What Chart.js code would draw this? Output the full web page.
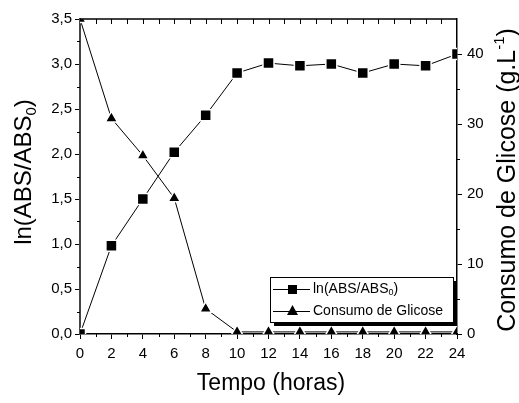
<!DOCTYPE html>
<html>
<head>
<meta charset="utf-8">
<script src="https://cdn.jsdelivr.net/npm/chart.js@4.4.0/dist/chart.umd.min.js"></script>
<style>
  html, body { margin: 0; padding: 0; background: #fff; }
</style>
</head>
<body>
<canvas id="chart" width="519" height="403"></canvas>
<script>
// Data
const hours = [0, 2, 4, 6, 8, 10, 12, 14, 16, 18, 20, 22, 24];
const lnAbs = [0.0, 0.98, 1.50, 2.02, 2.43, 2.90, 3.01, 2.98, 3.00, 2.90, 3.00, 2.98, 3.11];
const glicose = [45, 30.8, 25.5, 19.4, 3.6, 0.3, 0.3, 0.3, 0.3, 0.3, 0.3, 0.3, 0.3];

// Tick labels
const xTicks = [0, 2, 4, 6, 8, 10, 12, 14, 16, 18, 20, 22, 24];
const leftTicks = [0, 0.5, 1.0, 1.5, 2.0, 2.5, 3.0, 3.5];
const rightTicks = [0, 10, 20, 30, 40];

const FONT = '"Liberation Sans", Arial, sans-serif';

// draw a line of text with sub/superscript parts, centred on (cx, cy) baseline
function drawRich(ctx, cx, cy, angle, parts) {
    ctx.save();
    ctx.translate(cx, cy);
    ctx.rotate(angle);
    ctx.fillStyle = '#000';
    ctx.textBaseline = 'alphabetic';
    ctx.textAlign = 'left';
    let total = 0;
    parts.forEach(p => {
        ctx.font = p.size + 'px ' + FONT;
        p.w = ctx.measureText(p.t).width;
        total += p.w;
    });
    let x = -total / 2;
    parts.forEach(p => {
        ctx.font = p.size + 'px ' + FONT;
        ctx.fillText(p.t, x, p.dy || 0);
        x += p.w;
    });
    ctx.restore();
}

function drawRichLeft(ctx, x, y, parts) {
    ctx.fillStyle = '#000';
    ctx.textBaseline = 'middle';
    ctx.textAlign = 'left';
    parts.forEach(p => {
        ctx.font = p.size + 'px ' + FONT;
        ctx.fillText(p.t, x, y + (p.dy || 0));
        x += ctx.measureText(p.t).width;
    });
}

// frame, minor ticks, legend and axis titles
const decorPlugin = {
    id: 'decor',
    afterDraw(chart) {
        const ctx = chart.ctx;
        const area = chart.chartArea;
        const sx = chart.scales.x, sy = chart.scales.y, sy2 = chart.scales.y2;

        ctx.save();
        ctx.strokeStyle = '#000';
        // top border
        ctx.lineWidth = 1.5;
        ctx.beginPath();
        ctx.moveTo(area.left, area.top);
        ctx.lineTo(area.right, area.top);
        ctx.stroke();

        ctx.lineWidth = 1;
        ctx.beginPath();
        for (let h = 1; h < 24; h++) {
            const px = Math.round(sx.getPixelForValue(h)) + 0.5;
            // top ticks pointing in
            ctx.moveTo(px, area.top);
            ctx.lineTo(px, area.top + 5);
            // minor ticks at the bottom
            if (h % 2) {
                ctx.moveTo(px, area.bottom);
                ctx.lineTo(px, area.bottom + 3);
            }
        }
        for (let v = 0.25; v < 3.5; v += 0.5) {
            const py = Math.round(sy.getPixelForValue(v)) + 0.5;
            ctx.moveTo(area.left, py);
            ctx.lineTo(area.left - 3, py);
        }
        for (let v = 5; v < 45; v += 10) {
            const py = Math.round(sy2.getPixelForValue(v)) + 0.5;
            ctx.moveTo(area.right, py);
            ctx.lineTo(area.right + 3, py);
        }
        ctx.stroke();

        // legend box with shadow
        const lx = 270, ly = 277, lw = 183, lh = 45;
        ctx.fillStyle = '#000';
        ctx.fillRect(lx + 4, ly + 4, lw, lh);
        ctx.fillStyle = '#fff';
        ctx.fillRect(lx, ly, lw, lh);
        ctx.lineWidth = 1;
        ctx.strokeRect(lx + 0.5, ly + 0.5, lw, lh);

        const rows = [289, 311];
        ctx.beginPath();
        rows.forEach(ry => {
            ctx.moveTo(273, ry + 0.5);
            ctx.lineTo(310, ry + 0.5);
        });
        ctx.stroke();
        ctx.fillStyle = '#000';
        ctx.fillRect(288, rows[0] - 4, 9, 9);
        ctx.beginPath();
        ctx.moveTo(292.5, rows[1] - 6);
        ctx.lineTo(298, rows[1] + 4);
        ctx.lineTo(287, rows[1] + 4);
        ctx.closePath();
        ctx.fill();

        drawRichLeft(ctx, 313, rows[0], [
            { t: 'ln(ABS/ABS', size: 14 },
            { t: '0', size: 9, dy: 4 },
            { t: ')', size: 14 }
        ]);
        drawRichLeft(ctx, 313, rows[1], [{ t: 'Consumo de Glicose', size: 14 }]);

        // axis titles
        drawRich(ctx, 271, 390, 0, [{ t: 'Tempo (horas)', size: 23 }]);
        drawRich(ctx, 31, 172, -Math.PI / 2, [
            { t: 'ln(ABS/ABS', size: 24 },
            { t: '0', size: 15, dy: 5 },
            { t: ')', size: 24 }
        ]);
        drawRich(ctx, 515, 180, -Math.PI / 2, [
            { t: 'Consumo de Glicose (g.L', size: 25 },
            { t: '-1', size: 15, dy: -11 },
            { t: ')', size: 25 }
        ]);
        ctx.restore();
    }
};

function axisGrid() {
    return { display: true, drawOnChartArea: false, drawTicks: true, tickLength: 5, color: '#000', lineWidth: 1 };
}

const ctx = document.getElementById('chart').getContext('2d');
new Chart(ctx, {
    type: 'line',
    data: {
        datasets: [
            {
                label: 'ln(ABS/ABS0)',
                data: hours.map((h, i) => ({ x: h, y: lnAbs[i] })),
                yAxisID: 'y',
                borderColor: '#000',
                borderWidth: 1,
                tension: 0,
                pointStyle: 'rect',
                pointRadius: 7.8,
                pointBackgroundColor: '#000',
                pointBorderColor: '#fff',
                pointBorderWidth: 1.5,
                clip: 0
            },
            {
                label: 'Consumo de Glicose',
                data: hours.map((h, i) => ({ x: h, y: glicose[i] })),
                yAxisID: 'y2',
                borderColor: '#000',
                borderWidth: 1,
                tension: 0,
                pointStyle: 'triangle',
                pointRadius: 7,
                pointBackgroundColor: '#000',
                pointBorderColor: '#fff',
                pointBorderWidth: 1.5,
                clip: 0
            }
        ]
    },
    options: {
        responsive: false,
        animation: false,
        layout: { padding: { top: 19, left: 0, right: 0, bottom: 0 }, autoPadding: false },
        plugins: { legend: { display: false }, tooltip: { enabled: false } },
        scales: {
            x: {
                type: 'linear',
                position: 'bottom',
                min: 0,
                max: 24,
                afterBuildTicks: s => { s.ticks = xTicks.map(v => ({ value: v })); },
                afterFit: s => { s.height = 69; },
                ticks: { color: '#000', font: { family: FONT, size: 15 }, padding: 6, maxRotation: 0, autoSkip: false },
                grid: axisGrid(),
                border: { display: true, color: '#000', width: 1.5 }
            },
            y: {
                type: 'linear',
                position: 'left',
                min: 0,
                max: 3.5,
                afterBuildTicks: s => { s.ticks = leftTicks.map(v => ({ value: v })); },
                afterFit: s => { s.width = 80; },
                ticks: {
                    color: '#000',
                    font: { family: FONT, size: 15 },
                    padding: 3,
                    callback: v => v.toFixed(1).replace('.', ',')
                },
                grid: axisGrid(),
                border: { display: true, color: '#444', width: 2 }
            },
            y2: {
                type: 'linear',
                position: 'right',
                min: 0,
                max: 45,
                afterBuildTicks: s => { s.ticks = rightTicks.map(v => ({ value: v })); },
                afterFit: s => { s.width = 62; },
                ticks: { color: '#000', font: { family: FONT, size: 15 }, padding: 5 },
                grid: axisGrid(),
                border: { display: true, color: '#000', width: 1.5 }
            }
        }
    },
    plugins: [decorPlugin]
});
</script>
</body>
</html>
